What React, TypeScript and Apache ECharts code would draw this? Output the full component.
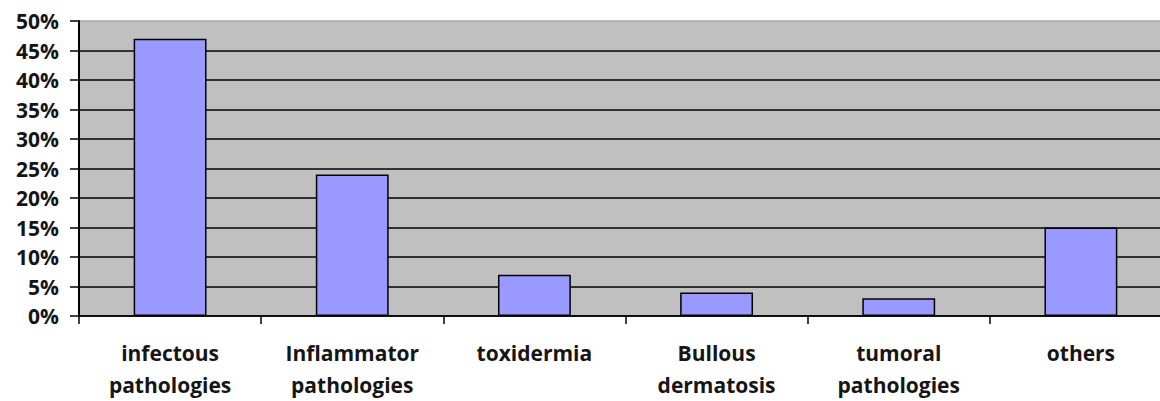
import React, { useEffect, useRef } from "react";
import * as echarts from "echarts";

const categories = [
  "infectous\npathologies",
  "Inflammator\npathologies",
  "toxidermia",
  "Bullous\ndermatosis",
  "tumoral\npathologies",
  "others",
];
const values = [47, 24, 7, 4, 3, 15];

const splitColors = [
  "#000", "#000", "#000", "#000", "#000", "#000", "#000", "#000", "#000", "#000", "#a8a8a8",
];

export default function App() {
  const ref = useRef<HTMLDivElement>(null);
  useEffect(() => {
    document.body.style.margin = "0";
    document.body.style.overflow = "hidden";
    const chart = echarts.init(ref.current!, null, { renderer: "svg" });
    chart.setOption({
      animation: false,
      textStyle: { fontFamily: "'Open Sans', Lato, sans-serif" },
      grid: {
        left: 79,
        top: 21,
        height: 295,
        width: 1093,
        containLabel: false,
        outerBoundsMode: "none",
      },
      xAxis: {
        type: "category",
        data: categories,
        axisLine: { lineStyle: { color: "#000", width: 1.5 } },
        axisTick: { show: true, length: 8, lineStyle: { color: "#000", width: 1.5 } },
        axisLabel: {
          color: "#151515",
          fontSize: 21,
          fontWeight: "bold",
          lineHeight: 32,
          margin: 21,
          interval: 0,
        },
      },
      yAxis: {
        type: "value",
        min: 0,
        max: 50,
        interval: 5,
        axisLine: { show: true, lineStyle: { color: "#000", width: 2 } },
        axisTick: { show: true, length: 9, lineStyle: { color: "#000", width: 1.5 } },
        axisLabel: {
          formatter: "{value}%",
          color: "#151515",
          fontSize: 21,
          fontWeight: "bold",
          margin: 20,
        },
        splitLine: { show: true, lineStyle: { color: splitColors, width: 1.5 } },
        splitArea: { show: true, areaStyle: { color: ["#c0c0c0"] } },
      },
      series: [
        {
          type: "bar",
          data: values,
          barWidth: "40%",
          itemStyle: { color: "#9999ff", borderColor: "#000", borderWidth: 1.5 },
        },
      ],
    });
    return () => chart.dispose();
  }, []);
  return (
    <div
      ref={ref}
      style={{
        position: "fixed",
        left: 0,
        top: 0,
        width: 1160,
        height: 401,
        overflow: "hidden",
        background: "#fff",
      }}
    />
  );
}
